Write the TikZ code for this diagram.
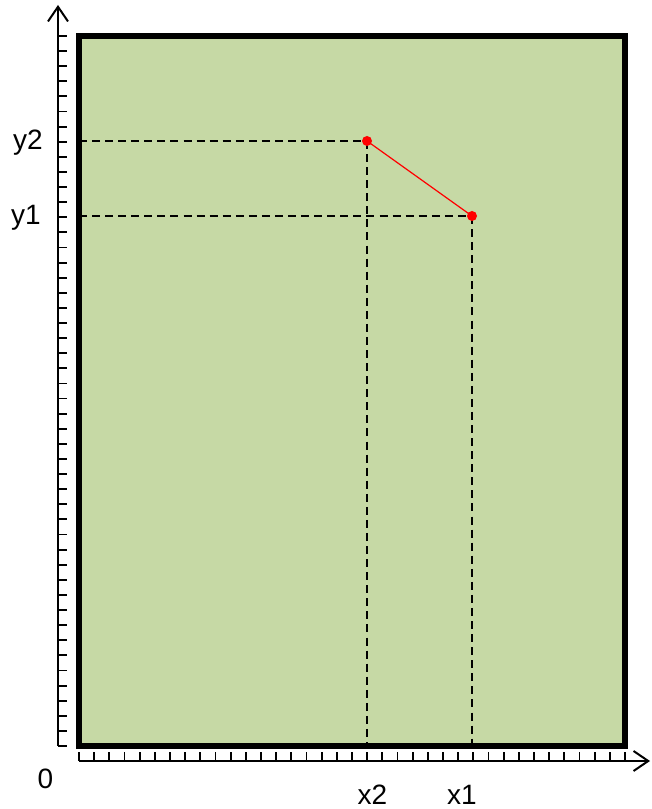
\documentclass[tikz,border=0pt]{standalone}
\usepackage{fontspec}
\setmainfont{Liberation Sans}
\usetikzlibrary{arrows.meta,calc}
\definecolor{FieldGreen}{HTML}{C6D9A5}
\definecolor{PointRed}{HTML}{FF0000}

\begin{document}
\begin{tikzpicture}[x=0.75pt,y=0.75pt,
    guide/.style={dash pattern=on 6pt off 3.8pt,line width=1.6pt},
    tickmark/.style={line width=1.4pt},
    axisline/.style={line width=1.5pt,-{Straight Barb[length=11pt,width=15pt,line width=1.5pt]}},
    dot/.style={circle,fill=PointRed,inner sep=0pt,minimum size=7.5pt},
    lbl/.style={font=\fontsize{21}{24}\selectfont,inner sep=0pt}]
  \useasboundingbox (0,0) rectangle (651,809);
  % field and the two sample points
  \coordinate (sw) at (79,63);
  \coordinate (ne) at (625,773);
  \coordinate (c2) at (367,668);
  \coordinate (c1) at (472,593);
  \fill[FieldGreen] (sw) rectangle (ne);
  % guide lines to the axes
  \draw[guide] (c2 -| sw) -- (c2);
  \draw[guide] (c1 -| sw) -- (c1);
  \draw[guide] (c2) -- (c2 |- sw);
  \draw[guide] (c1) -- (c1 |- sw);
  \draw[line width=4pt] (sw) rectangle (ne);
  % axes
  \coordinate (yfoot) at (58,63);
  \coordinate (ytip) at (58,804);
  \coordinate (xfoot) at (79,48);
  \coordinate (xtip) at (650,48);
  \draw[axisline] (yfoot) -- (ytip);
  \draw[axisline] (xfoot) -- (xtip);
  \foreach \k in {0,...,47}
    \draw[tickmark] ($(yfoot)+(0,{\k*15.106})$) -- ++(9,0);
  \foreach \k in {0,...,36}
    \draw[tickmark] ($(xfoot)+({\k*15.167},0)$) -- ++(0,9);
  % points
  \draw[PointRed,line width=0.9pt] (c2) -- (c1);
  \node[dot] (p2) at (c2) {};
  \node[dot] (p1) at (c1) {};
  % labels
  \node[lbl,anchor=east] (ly2) at (43,666) {y2};
  \node[lbl,anchor=east] (ly1) at (41,591) {y1};
  \node[lbl] (lzero) at (45.5,30) {0};
  \node[lbl] (lx2) at (372.5,14) {x2};
  \node[lbl] (lx1) at (462,14) {x1};
\end{tikzpicture}
\end{document}
